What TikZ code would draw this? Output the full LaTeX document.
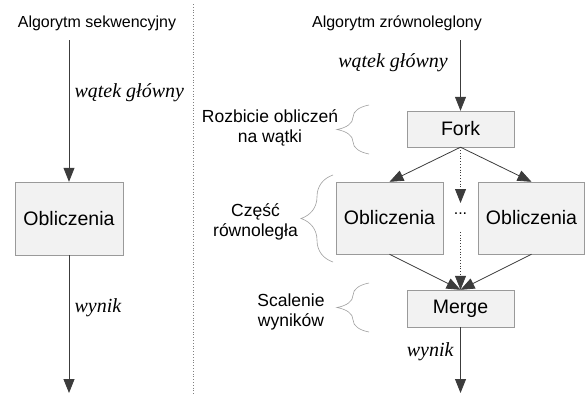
\documentclass[tikz,border=0pt]{standalone}
\usepackage{fontspec}
\setmainfont{Liberation Sans}
\newfontfamily\threadfont{Liberation Serif}
\usetikzlibrary{arrows.meta,decorations.pathreplacing}
\definecolor{boxfill}{HTML}{F2F2F2}
\definecolor{boxline}{HTML}{9A9A9A}
\definecolor{linegray}{HTML}{3C3C3C}
\tikzset{
  calcbox/.style={draw=boxline,fill=boxfill,inner sep=0pt,minimum width=107pt,minimum height=72pt,font=\fontsize{19.5}{22}\selectfont},
  stagebox/.style={calcbox,minimum height=36pt},
  flow/.style={draw=linegray,line width=0.8pt,-{Triangle[length=14pt,width=11pt]}},
  dotflow/.style={flow,dotted},
  sidebrace/.style={draw=gray!75,line width=0.6pt,decorate,decoration={brace,amplitude=32pt}},
  sidetext/.style={align=center,font=\fontsize{17.5}{20}\selectfont},
  thread/.style={font=\threadfont\itshape\fontsize{20}{24}\selectfont},
  title/.style={font=\fontsize{16}{19}\selectfont}
}
\begin{document}
\begin{tikzpicture}[x=1pt,y=-1pt]
  \def\W{585}
  \def\H{394}
  \def\sx{69}
  \def\px{460.5}
  \useasboundingbox (0,0) rectangle (\W,\H);
  \draw[gray,dotted,line width=0.8pt] (193,4) -- (193,\H);

  \node[title] (seqtitle) at (97,23) {Algorytm sekwencyjny};
  \coordinate (seqin) at (\sx,40);
  \node[calcbox,minimum width=108pt,minimum height=73pt] (seqcalc) at (\sx,218.5) {Obliczenia};
  \coordinate (seqout) at (\sx,393);
  \draw[flow] (seqin) -- (seqcalc.north);
  \draw[flow] (seqcalc.south) -- (seqout);
  \node[thread,anchor=west] (seqthread) at (\sx+2,93) {wątek główny};
  \node[thread,anchor=west] (seqresult) at (\sx+2,308) {wynik};

  \node[title] (partitle) at (397,23) {Algorytm zrównoleglony};
  \coordinate (parin) at (\px,40);
  \node[stagebox] (fork) at (\px,129) {Fork};
  \node[calcbox] (calcL) at (389.5,218) {Obliczenia};
  \node[calcbox,minimum width=106pt] (calcR) at (531.5,218) {Obliczenia};
  \node[font=\fontsize{16}{19}\selectfont] (dots) at (\px,214) {...};
  \coordinate (dotend) at (\px,203);
  \coordinate (dotstart) at (\px,232);
  \node[stagebox,minimum height=37pt] (merge) at (\px,308.5) {Merge};
  \coordinate (parout) at (\px,393);
  \node[thread] (parthread) at (393,63) {wątek główny};
  \node[thread,anchor=east] (parresult) at (457,352) {wynik};

  \draw[flow] (parin) -- (fork.north);
  \draw[flow] (fork.south) -- (calcL.north);
  \draw[flow] (fork.south) -- (calcR.north);
  \draw[dotflow] (fork.south) -- (dotend);
  \draw[dotflow] (dotstart) -- (merge.north);
  \draw[flow] (calcL.south) -- (merge.north);
  \draw[flow] (calcR.south) -- (merge.north);
  \draw[flow] (merge.south) -- (parout);

  \draw[sidebrace] (369,154) -- (369,105);
  \draw[sidebrace] (333,262) -- (333,175);
  \draw[sidebrace] (369,332) -- (369,283);
  \node[sidetext] (splitlbl) at (270,127.5) {Rozbicie obliczeń\\na wątki};
  \node[sidetext] (parlbl) at (255.5,222) {Część\\równoległa};
  \node[sidetext] (mergelbl) at (291,312) {Scalenie\\wyników};
\end{tikzpicture}
\end{document}
